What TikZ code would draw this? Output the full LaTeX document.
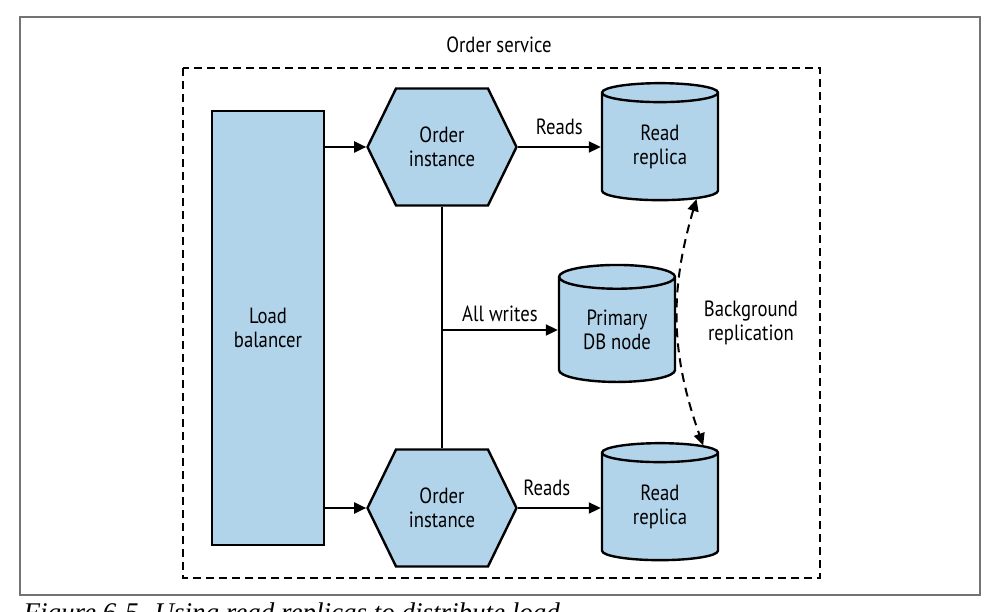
\documentclass[tikz,border=0pt]{standalone}
\usepackage{fontspec}
\setmainfont{PT Sans}[FakeStretch=0.85]
\newfontfamily\capfont{Liberation Serif}
\definecolor{partfill}{RGB}{178, 212, 235}
\definecolor{framegray}{RGB}{115, 115, 115}
\usetikzlibrary{shapes.geometric, shapes.symbols, arrows.meta}
\tikzset{
    every node/.style={font=\fontsize{22}{24}\selectfont, align=center},
    part/.style={draw, line width=2.4pt, fill=partfill, inner sep=0pt},
    balancer/.style={part, rectangle, minimum width=112pt, minimum height=434pt},
    instance/.style={part, signal, signal to=west and east,
        signal pointer angle=128, minimum width=149pt, minimum height=117pt},
    dbnode/.style={part, cylinder, shape border rotate=90, aspect=0.35,
        minimum width=116pt, minimum height=117pt},
    flow/.style={line width=2pt, -{Triangle[length=12pt, width=11pt]}},
    replication/.style={line width=2pt, dash pattern=on 9pt off 6pt,
        {Triangle[length=12pt, width=11pt]}-{Triangle[length=12pt, width=11pt]}},
}

\begin{document}
\begin{tikzpicture}[x=1pt, y=-1pt]
    \useasboundingbox (0,0) rectangle (990,612);
    \draw[framegray, line width=1.5pt] (20,17) rectangle (980,595);
    \node (service) at (499,45) {Order service};
    \draw[line width=2.4pt, dash pattern=on 8pt off 5pt] (183,68) rectangle (820,578);
    \node[balancer] (lb) at (268,328) {Load\\balancer};
    \node[instance] (inst1) at (442,147) {Order\\instance};
    \node[instance] (inst2) at (442,508) {Order\\instance};
    \node[dbnode] (rep1) at (660,147) {Read\\replica};
    \node[dbnode] (primary) at (617,330) {Primary\\DB node};
    \node[dbnode] (rep2) at (660,507) {Read\\replica};
    \draw[flow] (lb.east |- inst1.west) -- (inst1.west);
    \draw[flow] (lb.east |- inst2.west) -- (inst2.west);
    \draw[flow] (inst1.east) -- node[above=8pt] {Reads} (rep1.west |- inst1.east);
    \draw[flow] (inst2.east) -- node[pos=0.35, above=8pt] {Reads} (rep2.west |- inst2.east);
    \draw[line width=2pt] (inst1.south) -- (inst2.north);
    \draw[flow] (inst1.south |- primary.west) -- node[above=4pt] {All writes} (primary.west);
    \draw[replication] (rep1.-55) to[bend right=18]
        node[right=22pt] {Background\\replication} (rep2.55);
    \node[anchor=base west, font=\capfont\itshape\fontsize{27}{30}\selectfont]
        (caption) at (20,621) {Figure 6-5. Using read replicas to distribute load};
\end{tikzpicture}
\end{document}
